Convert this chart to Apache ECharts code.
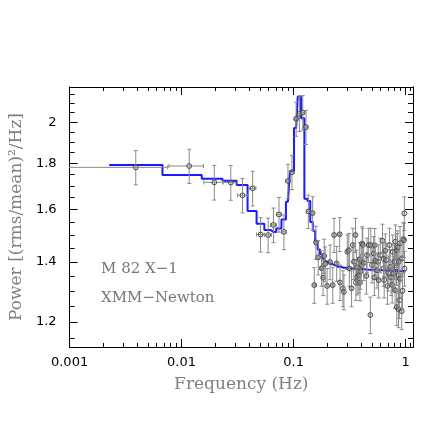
<!DOCTYPE html>
<html>
<head>
<meta charset="utf-8">
<script src="https://cdn.jsdelivr.net/npm/echarts@6/dist/echarts.min.js"></script>
<style>
html, body { margin: 0; padding: 0; background: #fff; }
#chart { width: 436px; height: 436px; }
</style>
</head>
<body>
<div id="chart"></div>
<script>
/* M 82 X-1 power spectrum (XMM-Newton) */
var frequency = [0.0039, 0.0117, 0.0196, 0.0275, 0.0350, 0.0431, 0.0507, 0.0593, 0.0661, 0.0741,
	0.0820, 0.0891, 0.0967, 0.1054, 0.1128, 0.1208, 0.1291, 0.1355, 0.1480, 0.1530,
	0.1583, 0.1660, 0.1778, 0.1837, 0.1876, 0.1914, 0.1993, 0.2119, 0.2238, 0.2299,
	0.2427, 0.2580, 0.2598, 0.2759, 0.2816, 0.3018, 0.3117, 0.3150, 0.3293, 0.3383,
	0.3453, 0.3573, 0.3600, 0.3640, 0.3700, 0.3825, 0.3890, 0.3915, 0.3955, 0.4010,
	0.4100, 0.4147, 0.4233, 0.4469, 0.4532, 0.4684, 0.4848, 0.4900, 0.5019, 0.5193,
	0.5260, 0.5300, 0.5367, 0.5556, 0.5700, 0.5745, 0.5941, 0.6227, 0.6355, 0.6400,
	0.6446, 0.6600, 0.6713, 0.6888, 0.7000, 0.7178, 0.7281, 0.7431, 0.7600, 0.7692,
	0.7782, 0.7970, 0.8060, 0.8120, 0.8300, 0.8345, 0.8380, 0.8500, 0.8618, 0.8650,
	0.8700, 0.8795, 0.8900, 0.8923, 0.9238, 0.9300, 0.9400, 0.9545, 0.9700, 0.9750,
	0.9780];
var power = [1.782, 1.788, 1.715, 1.714, 1.659, 1.689, 1.501, 1.499, 1.538, 1.580,
	1.511, 1.721, 1.760, 2.017, 2.043, 2.050, 1.975, 1.592, 1.585, 1.319,
	1.471, 1.416, 1.377, 1.344, 1.421, 1.392, 1.316, 1.399, 1.319, 1.499,
	1.394, 1.502, 1.328, 1.308, 1.296, 1.436, 1.442, 1.376, 1.308, 1.461,
	1.400, 1.499, 1.328, 1.380, 1.347, 1.353, 1.409, 1.327, 1.366, 1.388,
	1.467, 1.461, 1.396, 1.350, 1.424, 1.461, 1.222, 1.461, 1.388, 1.430,
	1.345, 1.460, 1.403, 1.370, 1.400, 1.336, 1.424, 1.477, 1.376, 1.410,
	1.336, 1.440, 1.406, 1.316, 1.360, 1.461, 1.382, 1.345, 1.320, 1.436,
	1.359, 1.400, 1.302, 1.474, 1.380, 1.247, 1.442, 1.452, 1.353, 1.240,
	1.400, 1.269, 1.340, 1.468, 1.234, 1.412, 1.300, 1.484, 1.479, 1.584,
	1.376];
var powerErr = [0.078, 0.078, 0.076, 0.076, 0.073, 0.075, 0.066, 0.066, 0.068, 0.070,
	0.067, 0.075, 0.077, 0.088, 0.090, 0.090, 0.086, 0.068, 0.068, 0.060,
	0.062, 0.062, 0.062, 0.060, 0.062, 0.062, 0.060, 0.062, 0.060, 0.065,
	0.062, 0.065, 0.060, 0.060, 0.058, 0.063, 0.063, 0.062, 0.060, 0.064,
	0.062, 0.065, 0.060, 0.062, 0.061, 0.061, 0.062, 0.060, 0.061, 0.062,
	0.064, 0.064, 0.062, 0.061, 0.063, 0.064, 0.057, 0.064, 0.062, 0.063,
	0.061, 0.064, 0.062, 0.061, 0.062, 0.060, 0.063, 0.064, 0.061, 0.062,
	0.060, 0.063, 0.062, 0.060, 0.061, 0.064, 0.062, 0.061, 0.060, 0.063,
	0.061, 0.062, 0.059, 0.064, 0.062, 0.057, 0.063, 0.063, 0.061, 0.057,
	0.062, 0.058, 0.061, 0.064, 0.057, 0.062, 0.059, 0.064, 0.064, 0.068,
	0.061];
// half width of each frequency bin
var freqErr = [0.0036, 0.0040, 0.0038, 0.0040, 0.0035, 0.0030, 0.0040, 0.0040, 0.0040, 0.0037,
	0.0039, 0.0039, 0.0039, 0.0039, 0.0039, 0.0039, 0.0039, 0.0039, 0.0039, 0.0039,
	0.0039, 0.0039, 0.0039, 0.0039, 0.0039, 0.0039, 0.0039, 0.0039, 0.0039, 0.0039,
	0.0039, 0.0039, 0.0039, 0.0039, 0.0039, 0.0039, 0.0039, 0.0039, 0.0039, 0.0039,
	0.0039, 0.0039, 0.0039, 0.0039, 0.0039, 0.0039, 0.0039, 0.0039, 0.0039, 0.0039,
	0.0039, 0.0039, 0.0039, 0.0039, 0.0039, 0.0039, 0.0039, 0.0039, 0.0039, 0.0039,
	0.0039, 0.0039, 0.0039, 0.0039, 0.0039, 0.0039, 0.0039, 0.0039, 0.0039, 0.0039,
	0.0039, 0.0039, 0.0039, 0.0039, 0.0039, 0.0039, 0.0039, 0.0039, 0.0039, 0.0039,
	0.0039, 0.0039, 0.0039, 0.0039, 0.0039, 0.0039, 0.0039, 0.0039, 0.0039, 0.0039,
	0.0039, 0.0039, 0.0039, 0.0039, 0.0039, 0.0039, 0.0039, 0.0039, 0.0039, 0.0039,
	0.0039];

// best fit model (histogram)
var modelFreq = [0.00226, 0.0039, 0.0117, 0.0196, 0.0275, 0.0350, 0.0431, 0.0507, 0.0593, 0.0661,
	0.0741, 0.0820, 0.0891, 0.0967, 0.1054, 0.1128, 0.1208, 0.1291, 0.1370, 0.1450,
	0.1520, 0.1600, 0.1680, 0.1760, 0.1840, 0.1910, 0.1990, 0.2070, 0.2150, 0.2300,
	0.2500, 0.2800, 0.3200, 0.3800, 0.4600, 0.5600, 0.6800, 0.8200, 0.9500, 1.0000];
var modelPower = [1.793, 1.793, 1.747, 1.731, 1.722, 1.703, 1.594, 1.543, 1.518, 1.511,
	1.524, 1.560, 1.632, 1.765, 1.970, 2.136, 2.020, 1.645, 1.635, 1.550,
	1.515, 1.476, 1.445, 1.428, 1.415, 1.407, 1.400, 1.395, 1.391, 1.386,
	1.382, 1.379, 1.376, 1.374, 1.372, 1.370, 1.369, 1.367, 1.366, 1.366];

var xMajorTicks = [0.001, 0.01, 0.1, 1];
var xMinorTicks = [0.002, 0.003, 0.004, 0.005, 0.006, 0.007, 0.008, 0.009,
	0.02, 0.03, 0.04, 0.05, 0.06, 0.07, 0.08, 0.09,
	0.2, 0.3, 0.4, 0.5, 0.6, 0.7, 0.8, 0.9, 1.1];
var yMajorTicks = [1.2, 1.4, 1.6, 1.8, 2];
var yMinorTicks = [1.15, 1.25, 1.3, 1.35, 1.45, 1.5, 1.55, 1.65, 1.7, 1.75, 1.85, 1.9, 1.95, 2.05, 2.1, 2.15];

var xRange = [0.001, 1.165];
var yRange = [1.126, 2.188];

function lg(arr){
	return arr.map(function(v){ return Math.log10(v); });
}

function tickFormat(v){
	return String(Number(Math.pow(10, v).toPrecision(3)));
}

function graphic(){
	var dom = document.getElementById('chart');
	var myChart = echarts.init(dom, null, {
		renderer: 'canvas'
	});

	var points = [];
	for (var i = 0; i < frequency.length; i++) {
		points.push([
			Math.log10(frequency[i]),
			Math.log10(power[i]),
			Math.log10(Math.max(frequency[i] - freqErr[i], 1e-5)),
			Math.log10(frequency[i] + freqErr[i]),
			Math.log10(power[i] - powerErr[i]),
			Math.log10(power[i] + powerErr[i])
		]);
	}
	var model = [];
	for (var j = 0; j < modelFreq.length; j++) {
		model.push([Math.log10(modelFreq[j]), Math.log10(modelPower[j])]);
	}

	var xMin = Math.log10(xRange[0]), xMax = Math.log10(xRange[1]);
	var yMin = Math.log10(yRange[0]), yMax = Math.log10(yRange[1]);
	var labelFont = { color: '#000', fontFamily: 'DejaVu Sans', fontSize: 13 };
	var titleFont = { color: '#808080', fontFamily: 'DejaVu Serif', fontSize: 17 };

	function axis(kind, pos, ticks, len, withLabel){
		var a = {
			type: 'value',
			position: pos,
			min: kind === 'x' ? xMin : yMin,
			max: kind === 'x' ? xMax : yMax,
			axisLine: { show: true, onZero: false, lineStyle: { color: '#000', width: 1 } },
			splitLine: { show: false },
			axisTick: {
				show: true, inside: true, length: len,
				customValues: lg(ticks),
				lineStyle: { color: '#000', width: 1 }
			},
			axisLabel: { show: false }
		};
		if (withLabel) {
			a.axisLabel = Object.assign({
				show: true,
				customValues: lg(ticks),
				formatter: tickFormat,
				margin: kind === 'x' ? 9 : 13
			}, labelFont);
		}
		return a;
	}

	var xAxes = [
		axis('x', 'bottom', xMajorTicks, 8, true),
		axis('x', 'bottom', xMinorTicks, 4, false),
		axis('x', 'top', xMajorTicks, 8, false),
		axis('x', 'top', xMinorTicks, 4, false)
	];
	xAxes[0].name = 'Frequency (Hz)';
	xAxes[0].nameLocation = 'middle';
	xAxes[0].nameGap = 29;
	xAxes[0].nameTextStyle = titleFont;

	var yAxes = [
		axis('y', 'left', yMajorTicks, 8, true),
		axis('y', 'left', yMinorTicks, 5, false),
		axis('y', 'right', yMajorTicks, 8, false),
		axis('y', 'right', yMinorTicks, 5, false)
	];
	yAxes[0].name = 'Power [(rms/mean)\u00b2/Hz]';
	yAxes[0].nameLocation = 'middle';
	yAxes[0].nameGap = 39;
	yAxes[0].nameTextStyle = titleFont;

	var option = {
		backgroundColor: '#fff',
		animation: false,
		grid: { left: 66, right: 23, top: 87, bottom: 89, containLabel: false },
		xAxis: xAxes,
		yAxis: yAxes,
		graphic: [
			{ type: 'text', left: 101, top: 262, style: { text: 'M 82 X\u22121', font: '15px "DejaVu Serif"', fill: '#777' } },
			{ type: 'text', left: 101, top: 291, style: { text: 'XMM\u2212Newton', font: '15px "DejaVu Serif"', fill: '#777' } }
		],
		series: [
			{
				name: 'model',
				type: 'line',
				step: 'middle',
				showSymbol: false,
				symbol: 'none',
				z: 2,
				lineStyle: { color: '#1a1aff', width: 2 },
				data: model
			},
			{
				name: 'data',
				type: 'custom',
				clip: true,
				z: 3,
				data: points,
				renderItem: function(params, api){
					var c = api.coord([api.value(0), api.value(1)]);
					var xl = api.coord([api.value(2), api.value(1)]);
					var xh = api.coord([api.value(3), api.value(1)]);
					var yl = api.coord([api.value(0), api.value(4)]);
					var yh = api.coord([api.value(0), api.value(5)]);
					var bar = { stroke: '#8a8a8a', lineWidth: 1 };
					var cap = 2;
					return {
						type: 'group',
						children: [
							{ type: 'line', shape: { x1: c[0], y1: yl[1], x2: c[0], y2: yh[1] }, style: bar },
							{ type: 'line', shape: { x1: c[0] - cap, y1: yl[1], x2: c[0] + cap, y2: yl[1] }, style: bar },
							{ type: 'line', shape: { x1: c[0] - cap, y1: yh[1], x2: c[0] + cap, y2: yh[1] }, style: bar },
							{ type: 'line', shape: { x1: xl[0], y1: c[1], x2: xh[0], y2: c[1] }, style: bar },
							{ type: 'line', shape: { x1: xl[0], y1: c[1] - cap, x2: xl[0], y2: c[1] + cap }, style: bar },
							{ type: 'line', shape: { x1: xh[0], y1: c[1] - cap, x2: xh[0], y2: c[1] + cap }, style: bar },
							{ type: 'circle', shape: { cx: c[0], cy: c[1], r: 2.4 }, style: { fill: 'none', stroke: '#4a4a4a', lineWidth: 1 } }
						]
					};
				}
			}
		]
	};

	if (option && typeof option === 'object') {
		myChart.setOption(option);
	}
	window.addEventListener('resize', myChart.resize);
}
graphic()
</script>
</body>
</html>
